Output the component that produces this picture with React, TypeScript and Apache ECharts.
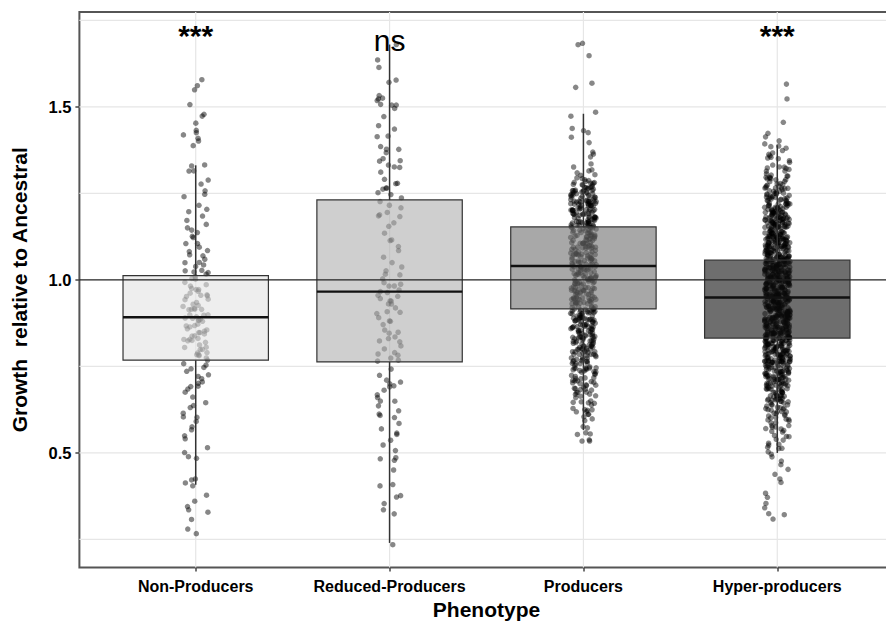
import React, { useEffect, useRef } from 'react';
import * as echarts from 'echarts';

// ---------- data ----------
const CATEGORIES = ['Non-Producers', 'Reduced-Producers', 'Producers', 'Hyper-producers'];
const Y_TICKS = [0.5, 1.0, 1.5];
const GRID_Y = [0.25, 0.5, 0.75, 1.25, 1.5, 1.75];
const REF_LINE = 1.0;
const SIG_LABELS = ['***', 'ns', '', '***'];
const SIG_Y = [1.662, 1.648, 1.648, 1.662];

// boxplot statistics
const BOX_MIN = [0.408, 0.24, 0.566, 0.5];
const BOX_Q1 = [0.768, 0.763, 0.916, 0.832];
const BOX_MED = [0.892, 0.966, 1.04, 0.949];
const BOX_Q3 = [1.0125, 1.231, 1.153, 1.057];
const BOX_MAX = [1.331, 1.68, 1.48, 1.389];

// individual observations (y values), estimated from the jittered points
const NON_PRODUCERS = [
  1.58, 1.56, 1.55, 1.51, 1.48, 1.47, 1.45, 1.43, 1.43, 1.42, 1.41, 1.40, 1.39, 1.33, 1.33, 1.32, 1.31, 1.29, 1.28, 1.26,
  1.25, 1.24, 1.22, 1.20, 1.20, 1.19, 1.17, 1.16, 1.15, 1.14, 1.14, 1.13, 1.12, 1.11, 1.10, 1.09, 1.09, 1.08, 1.07, 1.07,
  1.06, 1.05, 1.05, 1.04, 1.04, 1.03, 1.03, 1.02, 1.02, 1.02,
  1.01, 1.00, 1.00, .99, .99, .98, .98, .97, .97, .97, .96, .96, .95, .95, .95, .94, .94, .93, .93, .93, .92, .92, .92,
  .91, .91, .91, .90, .90, .90, .89, .89, .89, .89, .88, .88, .88, .87, .87, .87, .86, .86, .86, .85, .85, .85, .84, .84,
  .84, .83, .83, .83, .82, .82, .82, .81, .81, .80, .80, .80, .79, .79, .78, .78, .78, .77, .77,
  .76, .75, .75, .74, .74, .73, .72, .71, .70, .70, .69, .69, .68, .67, .66, .65, .64, .63, .62, .60, .60, .59, .58, .57,
  .55, .54, .52, .50, .49, .48, .43, .42, .41, .40, .38, .36, .34, .34, .33, .31, .28, .27,
];

const REDUCED_PRODUCERS = [
  1.68, 1.64, 1.61, 1.58, 1.57, 1.53, 1.53, 1.52, 1.52, 1.51, 1.51, 1.50, 1.50, 1.47, 1.45, 1.44, 1.42, 1.41, 1.39, 1.38,
  1.38, 1.37, 1.35, 1.34, 1.34, 1.33, 1.33, 1.32, 1.31, 1.29, 1.28, 1.28, 1.27, 1.27, 1.26, 1.25, 1.25, 1.24,
  1.23, 1.22, 1.21, 1.20, 1.19, 1.19, 1.18, 1.17, 1.15, 1.14, 1.12, 1.11, 1.10, 1.08, 1.07, 1.05, 1.04, 1.03, 1.02, 1.01,
  1.00, .99, .99, .98, .98, .97, .97,
  .96, .96, .95, .95, .94, .94, .93, .93, .92, .91, .91, .90, .89, .88, .88, .87, .86, .85, .85, .84, .83, .82, .82, .81,
  .80, .79, .79, .78, .77, .77, .77,
  .74, .72, .71, .70, .70, .69, .69, .68, .67, .66, .65, .65, .64, .62, .61, .61, .60, .59, .57, .56, .55, .54, .52, .51,
  .49, .48, .48, .45, .41, .40, .38, .37, .35, .34, .32, .24,
];

const PRODUCERS = [
  1.68, 1.68, 1.65, 1.57, 1.56, 1.48, 1.47, 1.44, 1.43, 1.43, 1.41, 1.40, 1.37, 1.36, 1.35, 1.33, 1.33, 1.32, 1.32, 1.31,
  1.30, 1.30,
  1.29, 1.29, 1.29, 1.29, 1.29,
  1.28, 1.28, 1.28, 1.28, 1.28, 1.28,
  1.27, 1.27, 1.27, 1.27, 1.27, 1.27, 1.27,
  1.26, 1.26, 1.26, 1.26, 1.26, 1.26, 1.26, 1.26,
  1.25, 1.25, 1.25, 1.25, 1.25, 1.25, 1.25, 1.25,
  1.24, 1.24, 1.24, 1.24, 1.24, 1.24, 1.24, 1.24, 1.24,
  1.23, 1.23, 1.23, 1.23, 1.23, 1.23, 1.23, 1.23, 1.23, 1.23,
  1.22, 1.22, 1.22, 1.22, 1.22, 1.22, 1.22, 1.22, 1.22, 1.22,
  1.21, 1.21, 1.21, 1.21, 1.21, 1.21, 1.21, 1.21, 1.21, 1.21,
  1.20, 1.20, 1.20, 1.20, 1.20, 1.20, 1.20, 1.20, 1.20, 1.20,
  1.19, 1.19, 1.19, 1.19, 1.19, 1.19, 1.19, 1.19, 1.19, 1.19,
  1.18, 1.18, 1.18, 1.18, 1.18, 1.18, 1.18, 1.18, 1.18, 1.18,
  1.17, 1.17, 1.17, 1.17, 1.17, 1.17, 1.17, 1.17, 1.17, 1.17,
  1.16, 1.16, 1.16, 1.16, 1.16, 1.16, 1.16, 1.16, 1.16, 1.16,
  1.15, 1.15, 1.15, 1.15, 1.15, 1.15, 1.15, 1.15,
  1.14, 1.14, 1.14, 1.14, 1.14, 1.14, 1.14, 1.14,
  1.13, 1.13, 1.13, 1.13, 1.13, 1.13, 1.13, 1.13,
  1.12, 1.12, 1.12, 1.12, 1.12, 1.12, 1.12, 1.12,
  1.11, 1.11, 1.11, 1.11, 1.11, 1.11, 1.11, 1.11,
  1.10, 1.10, 1.10, 1.10, 1.10, 1.10, 1.10, 1.10,
  1.09, 1.09, 1.09, 1.09, 1.09, 1.09, 1.09, 1.09,
  1.08, 1.08, 1.08, 1.08, 1.08, 1.08, 1.08, 1.08,
  1.07, 1.07, 1.07, 1.07, 1.07, 1.07, 1.07, 1.07,
  1.06, 1.06, 1.06, 1.06, 1.06, 1.06, 1.06, 1.06,
  1.05, 1.05, 1.05, 1.05, 1.05, 1.05, 1.05, 1.05,
  1.04, 1.04, 1.04, 1.04, 1.04, 1.04, 1.04, 1.04,
  1.03, 1.03, 1.03, 1.03, 1.03, 1.03, 1.03, 1.03,
  1.02, 1.02, 1.02, 1.02, 1.02, 1.02, 1.02, 1.02,
  1.01, 1.01, 1.01, 1.01, 1.01, 1.01, 1.01, 1.01,
  1.00, 1.00, 1.00, 1.00, 1.00, 1.00, 1.00, 1.00,
  .99, .99, .99, .99, .99, .99, .99, .99,
  .98, .98, .98, .98, .98, .98, .98, .98,
  .97, .97, .97, .97, .97, .97, .97, .97,
  .96, .96, .96, .96, .96, .96, .96, .96,
  .95, .95, .95, .95, .95, .95, .95, .95,
  .94, .94, .94, .94, .94, .94, .94, .94,
  .93, .93, .93, .93, .93, .93, .93, .93,
  .92, .92, .92, .92, .92, .92, .92, .92,
  .91, .91, .91, .91, .91, .91, .91, .91, .91,
  .90, .90, .90, .90, .90, .90, .90, .90, .90,
  .89, .89, .89, .89, .89, .89, .89, .89, .89,
  .88, .88, .88, .88, .88, .88, .88, .88, .88,
  .87, .87, .87, .87, .87, .87, .87, .87, .87,
  .86, .86, .86, .86, .86, .86, .86, .86, .86,
  .85, .85, .85, .85, .85, .85, .85, .85,
  .84, .84, .84, .84, .84, .84, .84, .84,
  .83, .83, .83, .83, .83, .83, .83, .83,
  .82, .82, .82, .82, .82, .82, .82, .82,
  .81, .81, .81, .81, .81, .81, .81, .81,
  .80, .80, .80, .80, .80, .80, .80, .80,
  .79, .79, .79, .79, .79, .79, .79,
  .78, .78, .78, .78, .78, .78, .78,
  .77, .77, .77, .77, .77, .77, .77,
  .76, .76, .76, .76, .76, .76,
  .75, .75, .75, .75, .75, .75,
  .74, .74, .74, .74, .74, .74,
  .73, .73, .73, .73, .73,
  .72, .72, .72, .72, .72,
  .71, .71, .71, .71, .71,
  .70, .70, .70, .70, .70,
  .69, .69, .69, .69, .68, .68, .68, .68, .67, .67, .67, .67,
  .66, .66, .66, .65, .65, .65, .64, .64, .64, .63, .63, .63, .62, .62, .62,
  .61, .61, .60, .60, .59, .58, .57, .56, .55, .55, .54, .54, .53,
];

const HYPER_PRODUCERS = [
  1.57, 1.52, 1.46, 1.42, 1.41, 1.40, 1.39, 1.39, 1.38, 1.38, 1.37, 1.37, 1.36, 1.36, 1.35, 1.35, 1.35, 1.34, 1.34, 1.33,
  1.33, 1.33, 1.32, 1.32, 1.32, 1.31, 1.31, 1.31, 1.30, 1.30, 1.30, 1.30, 1.30,
  1.29, 1.29, 1.29, 1.29, 1.29,
  1.28, 1.28, 1.28, 1.28, 1.28,
  1.27, 1.27, 1.27, 1.27, 1.27, 1.27,
  1.26, 1.26, 1.26, 1.26, 1.26, 1.26, 1.26,
  1.25, 1.25, 1.25, 1.25, 1.25, 1.25, 1.25,
  1.24, 1.24, 1.24, 1.24, 1.24, 1.24, 1.24, 1.24,
  1.23, 1.23, 1.23, 1.23, 1.23, 1.23, 1.23, 1.23,
  1.22, 1.22, 1.22, 1.22, 1.22, 1.22, 1.22, 1.22, 1.22,
  1.21, 1.21, 1.21, 1.21, 1.21, 1.21, 1.21, 1.21, 1.21, 1.21,
  1.20, 1.20, 1.20, 1.20, 1.20, 1.20, 1.20, 1.20, 1.20, 1.20,
  1.19, 1.19, 1.19, 1.19, 1.19, 1.19, 1.19, 1.19, 1.19, 1.19, 1.19, 1.19, 1.19,
  1.18, 1.18, 1.18, 1.18, 1.18, 1.18, 1.18, 1.18, 1.18, 1.18, 1.18, 1.18, 1.18,
  1.17, 1.17, 1.17, 1.17, 1.17, 1.17, 1.17, 1.17, 1.17, 1.17, 1.17, 1.17, 1.17,
  1.16, 1.16, 1.16, 1.16, 1.16, 1.16, 1.16, 1.16, 1.16, 1.16, 1.16, 1.16, 1.16,
  1.15, 1.15, 1.15, 1.15, 1.15, 1.15, 1.15, 1.15, 1.15, 1.15, 1.15, 1.15, 1.15,
  1.14, 1.14, 1.14, 1.14, 1.14, 1.14, 1.14, 1.14, 1.14, 1.14, 1.14, 1.14, 1.14,
  1.13, 1.13, 1.13, 1.13, 1.13, 1.13, 1.13, 1.13, 1.13, 1.13, 1.13, 1.13, 1.13,
  1.12, 1.12, 1.12, 1.12, 1.12, 1.12, 1.12, 1.12, 1.12, 1.12, 1.12, 1.12, 1.12, 1.12, 1.12,
  1.11, 1.11, 1.11, 1.11, 1.11, 1.11, 1.11, 1.11, 1.11, 1.11, 1.11, 1.11, 1.11, 1.11, 1.11,
  1.10, 1.10, 1.10, 1.10, 1.10, 1.10, 1.10, 1.10, 1.10, 1.10, 1.10, 1.10, 1.10, 1.10, 1.10,
  1.09, 1.09, 1.09, 1.09, 1.09, 1.09, 1.09, 1.09, 1.09, 1.09, 1.09, 1.09, 1.09, 1.09, 1.09,
  1.08, 1.08, 1.08, 1.08, 1.08, 1.08, 1.08, 1.08, 1.08, 1.08, 1.08, 1.08, 1.08, 1.08, 1.08,
  1.07, 1.07, 1.07, 1.07, 1.07, 1.07, 1.07, 1.07, 1.07, 1.07, 1.07, 1.07, 1.07, 1.07, 1.07,
  1.06, 1.06, 1.06, 1.06, 1.06, 1.06, 1.06, 1.06, 1.06, 1.06, 1.06, 1.06, 1.06, 1.06, 1.06,
  1.05, 1.05, 1.05, 1.05, 1.05, 1.05, 1.05, 1.05, 1.05, 1.05, 1.05, 1.05, 1.05, 1.05, 1.05, 1.05,
  1.04, 1.04, 1.04, 1.04, 1.04, 1.04, 1.04, 1.04, 1.04, 1.04, 1.04, 1.04, 1.04, 1.04, 1.04, 1.04,
  1.03, 1.03, 1.03, 1.03, 1.03, 1.03, 1.03, 1.03, 1.03, 1.03, 1.03, 1.03, 1.03, 1.03, 1.03, 1.03,
  1.02, 1.02, 1.02, 1.02, 1.02, 1.02, 1.02, 1.02, 1.02, 1.02, 1.02, 1.02, 1.02, 1.02, 1.02, 1.02,
  1.01, 1.01, 1.01, 1.01, 1.01, 1.01, 1.01, 1.01, 1.01, 1.01, 1.01, 1.01, 1.01, 1.01, 1.01, 1.01,
  1.00, 1.00, 1.00, 1.00, 1.00, 1.00, 1.00, 1.00, 1.00, 1.00, 1.00, 1.00, 1.00, 1.00, 1.00, 1.00,
  .99, .99, .99, .99, .99, .99, .99, .99, .99, .99, .99, .99, .99, .99, .99, .99,
  .98, .98, .98, .98, .98, .98, .98, .98, .98, .98, .98, .98, .98, .98, .98, .98,
  .97, .97, .97, .97, .97, .97, .97, .97, .97, .97, .97, .97, .97, .97, .97, .97,
  .96, .96, .96, .96, .96, .96, .96, .96, .96, .96, .96, .96, .96, .96, .96, .96,
  .95, .95, .95, .95, .95, .95, .95, .95, .95, .95, .95, .95, .95, .95, .95, .95,
  .94, .94, .94, .94, .94, .94, .94, .94, .94, .94, .94, .94, .94, .94, .94, .94,
  .93, .93, .93, .93, .93, .93, .93, .93, .93, .93, .93, .93, .93, .93, .93, .93,
  .92, .92, .92, .92, .92, .92, .92, .92, .92, .92, .92, .92, .92, .92, .92, .92,
  .91, .91, .91, .91, .91, .91, .91, .91, .91, .91, .91, .91, .91, .91, .91, .91,
  .90, .90, .90, .90, .90, .90, .90, .90, .90, .90, .90, .90, .90, .90, .90, .90,
  .89, .89, .89, .89, .89, .89, .89, .89, .89, .89, .89, .89, .89, .89, .89, .89,
  .88, .88, .88, .88, .88, .88, .88, .88, .88, .88, .88, .88, .88, .88, .88, .88,
  .87, .87, .87, .87, .87, .87, .87, .87, .87, .87, .87, .87, .87, .87, .87, .87,
  .86, .86, .86, .86, .86, .86, .86, .86, .86, .86, .86, .86, .86, .86, .86, .86,
  .85, .85, .85, .85, .85, .85, .85, .85, .85, .85, .85, .85, .85, .85, .85, .85,
  .84, .84, .84, .84, .84, .84, .84, .84, .84, .84, .84, .84, .84, .84, .84, .84,
  .83, .83, .83, .83, .83, .83, .83, .83, .83, .83, .83, .83, .83, .83, .83, .83,
  .82, .82, .82, .82, .82, .82, .82, .82, .82, .82, .82, .82, .82, .82,
  .81, .81, .81, .81, .81, .81, .81, .81, .81, .81, .81, .81, .81, .81,
  .80, .80, .80, .80, .80, .80, .80, .80, .80, .80, .80, .80, .80, .80,
  .79, .79, .79, .79, .79, .79, .79, .79, .79, .79, .79, .79, .79, .79,
  .78, .78, .78, .78, .78, .78, .78, .78, .78, .78, .78, .78, .78, .78,
  .77, .77, .77, .77, .77, .77, .77, .77, .77, .77, .77, .77, .77, .77,
  .76, .76, .76, .76, .76, .76, .76, .76, .76, .76, .76, .76, .76, .76,
  .75, .75, .75, .75, .75, .75, .75, .75, .75, .75, .75,
  .74, .74, .74, .74, .74, .74, .74, .74, .74, .74, .74,
  .73, .73, .73, .73, .73, .73, .73, .73, .73, .73, .73,
  .72, .72, .72, .72, .72, .72, .72, .72, .72, .72, .72,
  .71, .71, .71, .71, .71, .71, .71, .71, .71, .71, .71,
  .70, .70, .70, .70, .70, .70, .70, .70, .70, .70, .70,
  .69, .69, .69, .69, .69, .69, .69, .69,
  .68, .68, .68, .68, .68, .68, .68, .68,
  .67, .67, .67, .67, .67, .67, .67, .67,
  .66, .66, .66, .66, .66, .66, .66, .66,
  .65, .65, .65, .65, .65, .65, .65, .65,
  .64, .64, .64, .64, .64, .63, .63, .63, .63, .63, .62, .62, .62, .62, .62,
  .61, .61, .61, .61, .61, .60, .60, .60, .60, .60,
  .59, .59, .59, .58, .58, .58, .57, .57, .57, .56, .56, .56, .55, .55, .55,
  .54, .54, .53, .53, .52, .52, .51, .51, .50, .50,
  .49, .48, .47, .45, .44, .42, .41, .38, .37, .35, .34, .32, .32, .31,
];

const GROUPS = [NON_PRODUCERS, REDUCED_PRODUCERS, PRODUCERS, HYPER_PRODUCERS];

// ---------- styling ----------
const FONT = "'Liberation Sans', Arial, Helvetica, sans-serif";
const BOX_WIDTH = 0.75;
const JITTER_W = 0.066;
const JITTER_H = 0.011;
const BOX_FILLS = [
  'rgba(227,227,227,0.6)',
  'rgba(175,175,175,0.6)',
  'rgba(110,110,110,0.6)',
  'rgba(13,13,13,0.6)',
];
const POSITIONS = CATEGORIES.map((_, i) => i + 1);

// deterministic hash used only for the visual jitter (like geom_jitter), not for values
function hash01(n: number) {
  const s = Math.sin(n * 12.9898 + 78.233) * 43758.5453;
  return s - Math.floor(s);
}

function buildPoints() {
  const pts: number[][] = [];
  GROUPS.forEach((vals, g) => {
    vals.forEach((v, i) => {
      const jx = hash01(i + 1 + g * 1013) - 0.5;
      const jy = hash01((i + 1) * 3.17 + g * 517 + 0.37) - 0.5;
      pts.push([POSITIONS[g] + jx * 2 * JITTER_W, v + jy * JITTER_H]);
    });
  });
  return pts;
}

function buildOption(): any {
  const gridData: number[][] = [
    ...GRID_Y.map((v) => [0, 1, v]),
    ...POSITIONS.map((p) => [1, p, 1]),
  ];
  const boxData = CATEGORIES.map((_, i) => [POSITIONS[i], BOX_MIN[i], BOX_Q1[i], BOX_MED[i], BOX_Q3[i], BOX_MAX[i]]);
  const sigData = SIG_LABELS.map((_, i) => [POSITIONS[i], SIG_Y[i]]);

  return {
    animation: false,
    backgroundColor: '#ffffff',
    tooltip: { show: false },
    grid: {
      left: 79.4,
      right: -7.6,
      top: 12,
      bottom: 57.5,
      show: true,
      borderColor: '#555555',
      borderWidth: 2,
      backgroundColor: 'transparent',
      containLabel: false,
      outerBoundsMode: 'none',
    },
    xAxis: {
      type: 'value',
      min: 0.4,
      max: 4.6,
      axisLine: { show: false },
      splitLine: { show: false },
      axisTick: { show: true, customValues: POSITIONS, length: 4, lineStyle: { color: '#444', width: 1.5 } },
      axisLabel: {
        customValues: POSITIONS,
        formatter: (v: number) => CATEGORIES[Math.round(v) - 1] ?? '',
        fontFamily: FONT,
        fontWeight: 'bold',
        fontSize: 16,
        color: '#000',
        margin: 11,
      },
      name: 'Phenotype',
      nameLocation: 'middle',
      nameGap: 31,
      nameTextStyle: { fontFamily: FONT, fontWeight: 'bold', fontSize: 21, color: '#000' },
    },
    yAxis: {
      type: 'value',
      min: 0.169,
      max: 1.774,
      axisLine: { show: false },
      splitLine: { show: false },
      axisTick: { show: true, customValues: Y_TICKS, length: 4, lineStyle: { color: '#444', width: 1.5 } },
      axisLabel: {
        customValues: Y_TICKS,
        formatter: (v: number) => v.toFixed(1),
        fontFamily: FONT,
        fontWeight: 'bold',
        fontSize: 16.5,
        color: '#000',
        margin: 8,
      },
      name: 'Growth  relative to Ancestral',
      nameLocation: 'middle',
      nameRotate: 90,
      nameGap: 49,
      nameTextStyle: { fontFamily: FONT, fontWeight: 'bold', fontSize: 21, color: '#000' },
    },
    series: [
      {
        type: 'custom',
        name: 'grid',
        z: 1,
        silent: true,
        encode: { x: 1, y: 2 },
        data: gridData,
        renderItem: (params: any, api: any) => {
          const cs = params.coordSys;
          const kind = api.value(0);
          const style = { stroke: '#e6e6e6', lineWidth: 1.2 };
          if (kind === 0) {
            const y = api.coord([1, api.value(2)])[1];
            return { type: 'line', shape: { x1: cs.x, y1: y, x2: cs.x + cs.width, y2: y }, style };
          }
          const x = api.coord([api.value(1), 1])[0];
          return { type: 'line', shape: { x1: x, y1: cs.y, x2: x, y2: cs.y + cs.height }, style };
        },
      },
      {
        type: 'scatter',
        name: 'points',
        z: 2,
        silent: true,
        symbol: 'circle',
        symbolSize: 5.5,
        itemStyle: { color: '#000000', opacity: 0.47 },
        data: buildPoints(),
      },
      {
        type: 'custom',
        name: 'boxes',
        z: 3,
        silent: true,
        encode: { x: 0, y: [1, 2, 3, 4, 5] },
        data: boxData,
        renderItem: (params: any, api: any) => {
          const x = api.value(0);
          const pMin = api.coord([x, api.value(1)]);
          const pQ1 = api.coord([x, api.value(2)]);
          const pMed = api.coord([x, api.value(3)]);
          const pQ3 = api.coord([x, api.value(4)]);
          const pMax = api.coord([x, api.value(5)]);
          const hw = api.size([BOX_WIDTH, 0])[0] / 2;
          const cx = pMed[0];
          const edge = { stroke: '#333333', lineWidth: 1.5 };
          return {
            type: 'group',
            children: [
              { type: 'line', shape: { x1: cx, y1: pQ3[1], x2: cx, y2: pMax[1] }, style: edge },
              { type: 'line', shape: { x1: cx, y1: pQ1[1], x2: cx, y2: pMin[1] }, style: edge },
              {
                type: 'rect',
                shape: { x: cx - hw, y: pQ3[1], width: 2 * hw, height: pQ1[1] - pQ3[1] },
                style: { fill: BOX_FILLS[params.dataIndex], stroke: '#333333', lineWidth: 1.2 },
              },
              {
                type: 'line',
                shape: { x1: cx - hw, y1: pMed[1], x2: cx + hw, y2: pMed[1] },
                style: { stroke: '#111111', lineWidth: 2.4 },
              },
            ],
          };
        },
      },
      {
        type: 'custom',
        name: 'ref',
        z: 4,
        silent: true,
        encode: { x: 0, y: 1 },
        data: [[1, REF_LINE]],
        renderItem: (params: any, api: any) => {
          const cs = params.coordSys;
          const y = api.coord([api.value(0), api.value(1)])[1];
          return {
            type: 'line',
            shape: { x1: cs.x, y1: y, x2: cs.x + cs.width, y2: y },
            style: { stroke: '#222222', lineWidth: 1.2 },
          };
        },
      },
      {
        type: 'custom',
        name: 'sig',
        z: 5,
        silent: true,
        encode: { x: 0, y: 1 },
        data: sigData,
        renderItem: (params: any, api: any) => {
          const p = api.coord([api.value(0), api.value(1)]);
          return {
            type: 'text',
            x: p[0],
            y: p[1],
            style: {
              text: SIG_LABELS[params.dataIndex],
              fontFamily: FONT,
              fontSize: 30,
              fontWeight: SIG_LABELS[params.dataIndex] === 'ns' ? 'normal' : 'bold',
              fill: '#000000',
              align: 'center',
              verticalAlign: 'bottom',
            },
          };
        },
      },
    ],
  };
}

export default function App() {
  const ref = useRef<HTMLDivElement>(null);
  useEffect(() => {
    document.body.style.margin = '0';
    if (!ref.current) return;
    const chart = echarts.init(ref.current, null, { renderer: 'svg' });
    chart.setOption(buildOption());
    return () => chart.dispose();
  }, []);
  return (
    <div style={{ position: 'absolute', left: 0, top: 0, width: 886, height: 625, margin: 0, padding: 0 }}>
      <div ref={ref} style={{ width: 886, height: 625, background: '#fff' }} />
    </div>
  );
}
